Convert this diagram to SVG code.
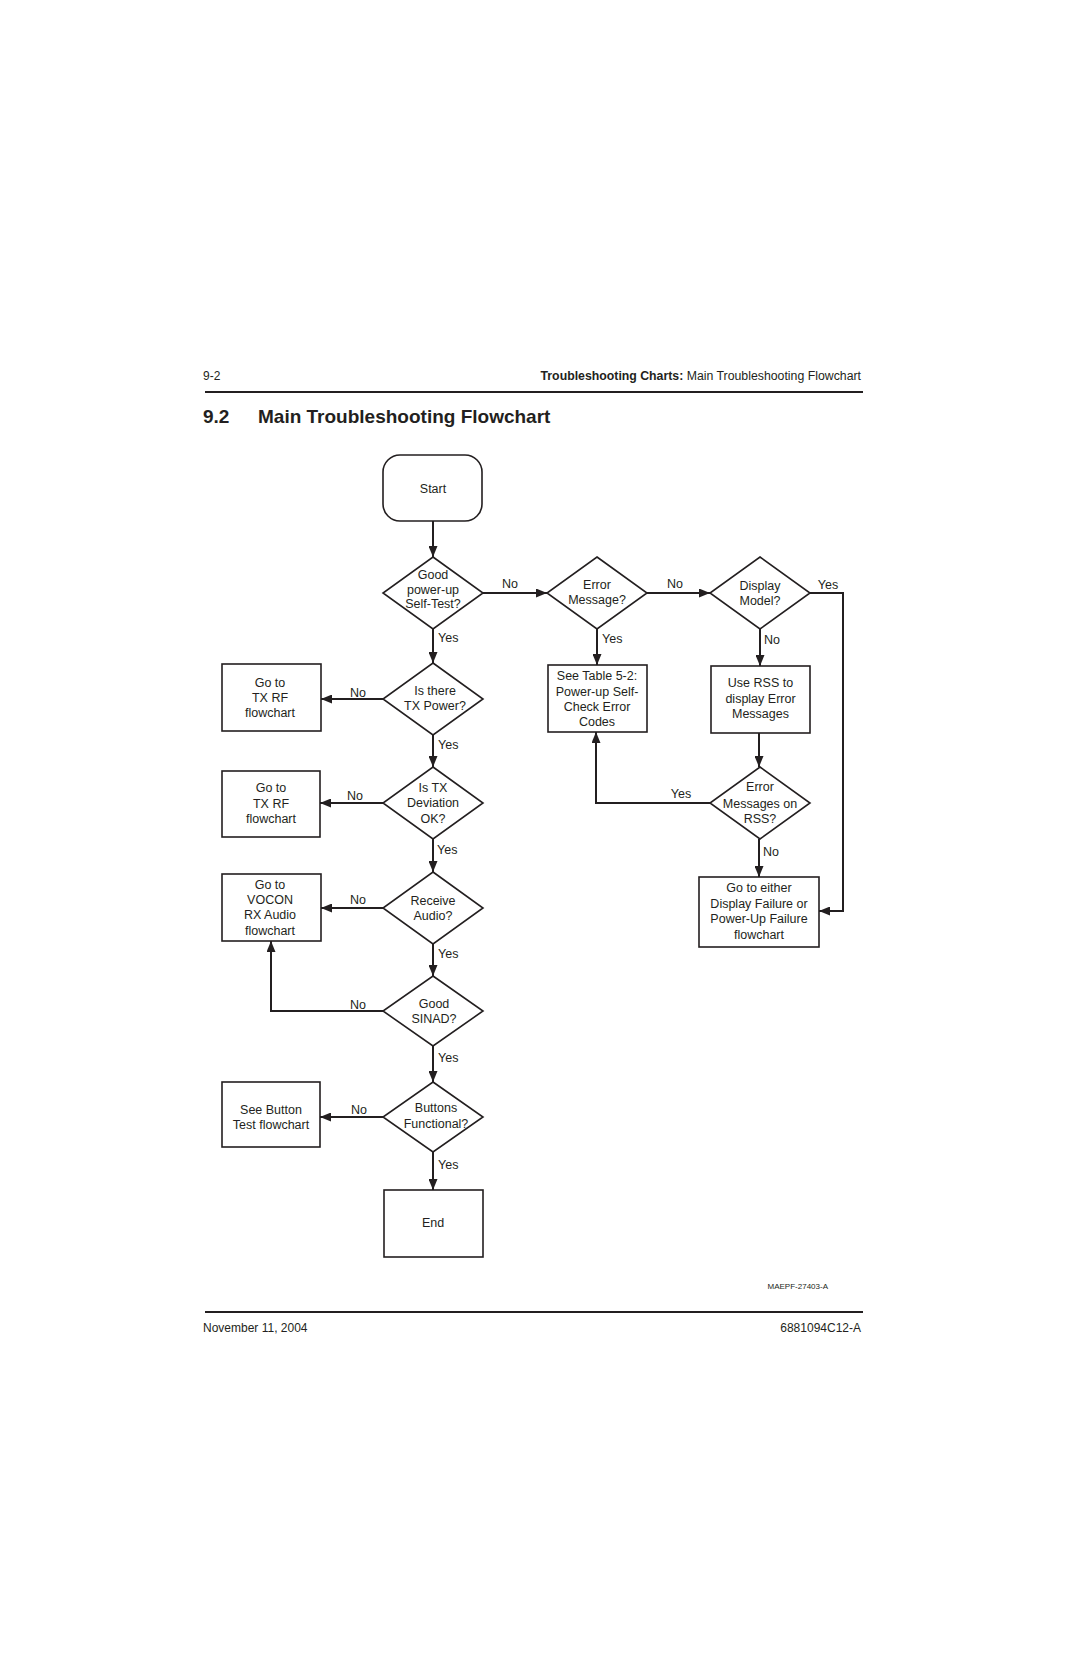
<svg xmlns="http://www.w3.org/2000/svg" width="1080" height="1669" viewBox="0 0 1080 1669">
<style>
text{font-family:"Liberation Sans",Arial,sans-serif;fill:#231f20}
.t{font-size:12.5px;text-anchor:middle}
.l{font-size:12.5px}
.lm{font-size:12.5px;text-anchor:middle}
.n{fill:#fff;stroke:#231f20;stroke-width:1.6}
.c{fill:none;stroke:#231f20;stroke-width:2;marker-end:url(#ah)}
.rule{stroke:#231f20;stroke-width:2}
</style>
<defs>
<marker id="ah" markerUnits="userSpaceOnUse" markerWidth="11" markerHeight="9" refX="11" refY="4.5" orient="auto">
<path d="M0,0 L11,4.5 L0,9 z" fill="#231f20"/>
</marker>
</defs>
<rect width="1080" height="1669" fill="#fff"/>
<g id="header">
<text x="203" y="380" style="font-size:12px">9-2</text>
<text x="861" y="380" style="font-size:12.3px;text-anchor:end"><tspan font-weight="bold">Troubleshooting Charts:</tspan> Main Troubleshooting Flowchart</text>
<line class="rule" x1="205" y1="392" x2="863" y2="392"/>
<text x="203" y="423" style="font-size:19px;font-weight:bold">9.2</text>
<text x="258" y="423" style="font-size:19px;font-weight:bold">Main Troubleshooting Flowchart</text>
</g>
<g id="connectors">
<path class="c" d="M433,521 V557"/>
<path class="c" d="M483,593 H547"/>
<path class="c" d="M647,593 H710"/>
<path class="c" d="M810,593 H843 V911 H819"/>
<path class="c" d="M433,629 V663"/>
<path class="c" d="M383,699 H321"/>
<path class="c" d="M433,735 V767"/>
<path class="c" d="M383,803 H320"/>
<path class="c" d="M433,839 V872"/>
<path class="c" d="M383,908 H321"/>
<path class="c" d="M433,944 V976"/>
<path class="c" d="M383,1011 H271 V941"/>
<path class="c" d="M433,1046 V1082"/>
<path class="c" d="M383,1117 H320"/>
<path class="c" d="M433,1152 V1190"/>
<path class="c" d="M597,629 V665"/>
<path class="c" d="M760,629 V666"/>
<path class="c" d="M759,733 V767"/>
<path class="c" d="M710,803 H596 V732"/>
<path class="c" d="M759,839 V877"/>
<text class="lm" x="510" y="588">No</text>
<text class="lm" x="675" y="588">No</text>
<text class="lm" x="828" y="589">Yes</text>
<text class="l" x="438" y="642">Yes</text>
<text class="l" x="602" y="643">Yes</text>
<text class="l" x="764" y="644">No</text>
<text class="lm" x="358" y="697">No</text>
<text class="l" x="438" y="749">Yes</text>
<text class="lm" x="355" y="800">No</text>
<text class="l" x="437" y="854">Yes</text>
<text class="lm" x="358" y="904">No</text>
<text class="l" x="438" y="958">Yes</text>
<text class="lm" x="358" y="1009">No</text>
<text class="l" x="438" y="1062">Yes</text>
<text class="lm" x="359" y="1114">No</text>
<text class="l" x="438" y="1169">Yes</text>
<text class="lm" x="681" y="798">Yes</text>
<text class="l" x="763" y="856">No</text>
</g>
<g id="start"><rect class="n" x="383" y="455" width="99" height="66" rx="17"/><text class="t" x="433" y="492.5">Start</text></g>
<g id="d_selftest"><polygon class="n" points="433,557 483,593 433,629 383,593"/><text class="t" x="433" y="578.5">Good</text><text class="t" x="433" y="593.5">power-up</text><text class="t" x="433" y="608">Self-Test?</text></g>
<g id="d_errmsg"><polygon class="n" points="597,557 647,593 597,629 547,593"/><text class="t" x="597" y="588.5">Error</text><text class="t" x="597" y="603.5">Message?</text></g>
<g id="d_display"><polygon class="n" points="760,557 810,593 760,629 710,593"/><text class="t" x="760" y="589.5">Display</text><text class="t" x="760" y="604.5">Model?</text></g>
<g id="d_txpower"><polygon class="n" points="433,663 483,699 433,735 383,699"/><text class="t" x="435" y="695">Is there</text><text class="t" x="435" y="710">TX Power?</text></g>
<g id="d_txdev"><polygon class="n" points="433,767 483,803 433,839 383,803"/><text class="t" x="433" y="791.5">Is TX</text><text class="t" x="433" y="807">Deviation</text><text class="t" x="433" y="822.5">OK?</text></g>
<g id="d_rxaudio"><polygon class="n" points="433,872 483,908 433,944 383,908"/><text class="t" x="433" y="905">Receive</text><text class="t" x="433" y="920">Audio?</text></g>
<g id="d_sinad"><polygon class="n" points="433,976 483,1011 433,1046 383,1011"/><text class="t" x="434" y="1008">Good</text><text class="t" x="434" y="1023">SINAD?</text></g>
<g id="d_buttons"><polygon class="n" points="433,1082 483,1117 433,1152 383,1117"/><text class="t" x="436" y="1112">Buttons</text><text class="t" x="436" y="1128">Functional?</text></g>
<g id="d_rsserr"><polygon class="n" points="760,767 810,803 760,839 710,803"/><text class="t" x="760" y="791">Error</text><text class="t" x="760" y="807.5">Messages on</text><text class="t" x="760" y="822.5">RSS?</text></g>
<g id="b_txrf1"><rect class="n" x="222" y="664" width="99" height="67"/><text class="t" x="270" y="686.5">Go to</text><text class="t" x="270" y="701.5">TX RF</text><text class="t" x="270" y="716.5">flowchart</text></g>
<g id="b_txrf2"><rect class="n" x="222" y="771" width="98" height="66"/><text class="t" x="271" y="792">Go to</text><text class="t" x="271" y="807.5">TX RF</text><text class="t" x="271" y="822.5">flowchart</text></g>
<g id="b_vocon"><rect class="n" x="222" y="874" width="99" height="67"/><text class="t" x="270" y="888.5">Go to</text><text class="t" x="270" y="904">VOCON</text><text class="t" x="270" y="919">RX Audio</text><text class="t" x="270" y="935">flowchart</text></g>
<g id="b_button"><rect class="n" x="222" y="1082" width="98" height="65"/><text class="t" x="271" y="1113.5">See Button</text><text class="t" x="271" y="1129">Test flowchart</text></g>
<g id="b_end"><rect class="n" x="384" y="1190" width="99" height="67"/><text class="t" x="433" y="1226.5">End</text></g>
<g id="b_table"><rect class="n" x="548" y="665" width="99" height="67"/><text class="t" x="597" y="680">See Table 5-2:</text><text class="t" x="597" y="695.5">Power-up Self-</text><text class="t" x="597" y="711">Check Error</text><text class="t" x="597" y="726">Codes</text></g>
<g id="b_userss"><rect class="n" x="711" y="666" width="99" height="67"/><text class="t" x="760.5" y="687">Use RSS to</text><text class="t" x="760.5" y="702.5">display Error</text><text class="t" x="760.5" y="718">Messages</text></g>
<g id="b_either"><rect class="n" x="699" y="877" width="120" height="70"/><text class="t" x="759" y="892">Go to either</text><text class="t" x="759" y="907.5">Display Failure or</text><text class="t" x="759" y="923">Power-Up Failure</text><text class="t" x="759" y="938.5">flowchart</text></g>
<g id="footer">
<text x="828" y="1289" style="font-size:8px;text-anchor:end">MAEPF-27403-A</text>
<line class="rule" x1="205" y1="1312" x2="863" y2="1312"/>
<text x="203" y="1332" style="font-size:12px">November 11, 2004</text>
<text x="861" y="1332" style="font-size:12px;text-anchor:end">6881094C12-A</text>
</g>
</svg>
